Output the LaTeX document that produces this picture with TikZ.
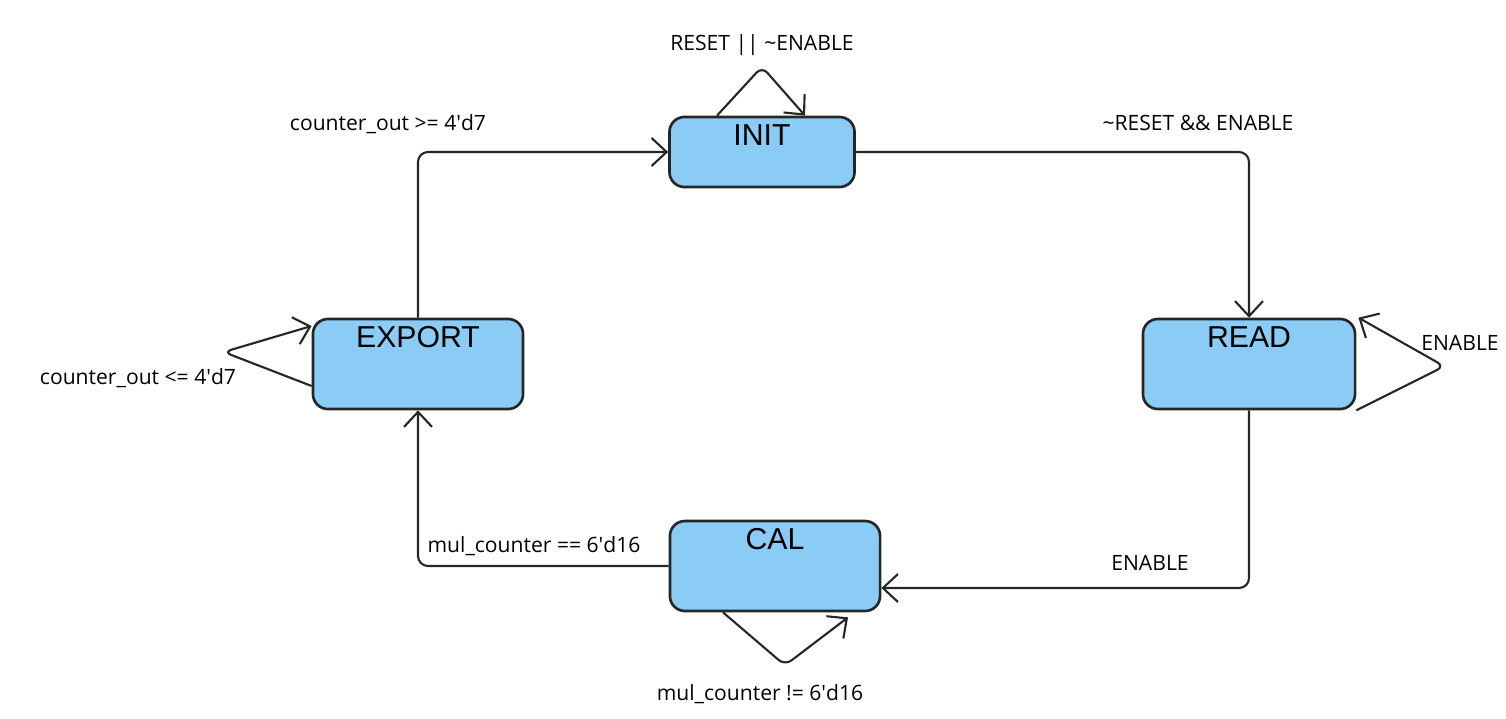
\documentclass[tikz,border=0pt]{standalone}
\usepackage{fontspec}
\setmainfont{Open Sans}
\newfontfamily\statefont{Liberation Sans}
\usetikzlibrary{arrows.meta}
\definecolor{stblue}{RGB}{138,204,246}
\tikzstyle{State}=[rectangle, rounded corners=0.15cm, draw=black!85, line width=0.75pt, fill=stblue, inner sep=0pt, text height=0.29cm, text depth=0.61cm, font=\statefont\fontsize{8.6}{10}\selectfont]
\tikzstyle{Cond}=[inner sep=0pt, font=\fontsize{6}{7}\selectfont]
\tikzstyle{Trans}=[draw=black!85, line width=0.6pt, rounded corners=0.1cm, -{Straight Barb[length=1.5mm,width=2.8mm]}]

\begin{document}
\begin{tikzpicture}[x=0.01cm, y=-0.01cm]
    \useasboundingbox (0,0) rectangle (1506,718);
    \path
    (762,152) node[State, minimum width=1.85cm, text depth=0.41cm] (init) {INIT}
    (1249,364) node[State, minimum width=2.12cm] (read) {READ}
    (418,364) node[State, minimum width=2.10cm] (export) {EXPORT}
    (775,566) node[State, minimum width=2.10cm] (cal) {CAL};

    \path (762,45) node[Cond] (cinit) {RESET || \textasciitilde ENABLE}
    (1198,123) node[Cond] (cinitread) {\textasciitilde RESET \&\& ENABLE}
    (1460,343) node[Cond] (cread) {ENABLE}
    (1150,563) node[Cond] (creadcal) {ENABLE}
    (760,694) node[Cond] (ccal) {mul\_counter != 6\textquotesingle d16}
    (534,546) node[Cond] (ccalexport) {mul\_counter == 6\textquotesingle d16}
    (138,378) node[Cond] (cexport) {counter\_out <= 4\textquotesingle d7}
    (388,124) node[Cond] (cexportinit) {counter\_out >= 4\textquotesingle d7};

    \draw[Trans] (init.east) -| (read.north);
    \draw[Trans] (read.south) |- ([yshift=-0.22cm]cal.east);
    \draw[Trans] (cal.west) -| (export.south);
    \draw[Trans] (export.north) |- (init.west);
    % self loops
    \draw[Trans, rounded corners=0.08cm] ([xshift=-0.45cm]init.north) -- ++(45,-49) -- ([xshift=0.43cm]init.north);
    \draw[Trans, rounded corners=0.08cm] (read.south east) -- ++(88,-44) -- ([xshift=0.02cm]read.north east);
    \draw[Trans, rounded corners=0.08cm] ([yshift=-0.22cm]export.west) -- ++(-88,-34) -- ([yshift=0.38cm]export.west);
    \draw[Trans, rounded corners=0.08cm] ([xshift=-0.52cm]cal.south) -- ++(62,53) -- ([xshift=0.73cm, yshift=-0.05cm]cal.south);
\end{tikzpicture}
\end{document}
